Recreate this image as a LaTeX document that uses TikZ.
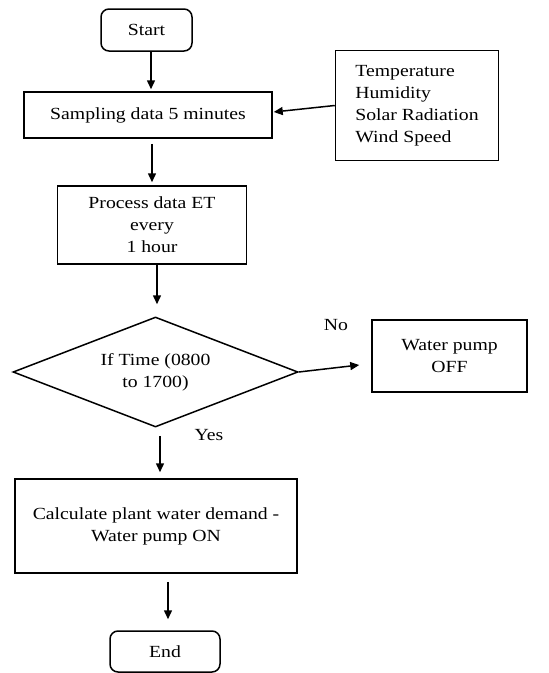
\documentclass[tikz,border=0pt]{standalone}
\usepackage{fontspec}
\setmainfont{Liberation Serif}[FakeStretch=1.16]
\usetikzlibrary{shapes.geometric,arrows.meta}
\begin{document}
\begin{tikzpicture}[x=1pt,y=-1pt,
  every node/.style={font=\fontsize{17}{22}\selectfont},
  box/.style={draw,line width=1.5pt,inner sep=0pt,align=center},
  term/.style={box,rounded corners=8pt},
  dec/.style={draw,line width=1.5pt,shape=diamond,aspect=2.59,inner sep=0pt,align=center},
  arr/.style={line width=1.5pt,-{Triangle[length=9pt,width=8pt]}},
  lbl/.style={inner sep=0pt}]
\useasboundingbox (0,0) rectangle (549,673);
\node[term,minimum width=91pt,minimum height=42pt] (start) at (146.5,30) {Start};
\node[box,minimum width=248pt,minimum height=46pt] (samp) at (148,115) {Sampling data 5 minutes};
\node[box,minimum width=163pt,minimum height=110pt,align=left] (sens) at (417,105.5) {Temperature\\Humidity\\Solar Radiation\\Wind Speed};
\node[box,minimum width=189pt,minimum height=78pt] (proc) at (152,225) {Process data ET\\every\\1 hour};
\node[dec,minimum width=285pt,minimum height=110pt] (dia) at (155.5,372) {If Time (0800\\to 1700)};
\node[box,minimum width=155pt,minimum height=72pt] (off) at (449.5,356) {Water pump\\OFF};
\node[box,minimum width=282pt,minimum height=94pt] (calc) at (156,526) {Calculate plant water demand -\\Water pump ON};
\node[term,minimum width=110pt,minimum height=41pt] (end) at (165,651.5) {End};
\node[lbl] (no) at (336,325) {No};
\node[lbl] (yes) at (209,435) {Yes};
\draw[arr] ([xshift=4.5pt]start.south) -- ([xshift=3pt,yshift=2pt]samp.north);
\draw[arr] (sens.west) -- ([xshift=1pt,yshift=3pt]samp.east);
\draw[arr] ([xshift=4pt,yshift=-5pt]samp.south) -- ([xshift=0pt,yshift=3pt]proc.north);
\draw[arr] ([xshift=5pt]proc.south) -- ([xshift=1.5pt,yshift=12pt]dia.north);
\draw[arr] (dia.east) -- ([xshift=-12pt,yshift=-9pt]off.west);
\draw[arr] ([xshift=4.5pt,yshift=-8pt]dia.south) -- ([xshift=4pt,yshift=6pt]calc.north);
\draw[arr] ([xshift=12pt,yshift=-8pt]calc.south) -- ([xshift=3pt,yshift=11pt]end.north);
\end{tikzpicture}
\end{document}
